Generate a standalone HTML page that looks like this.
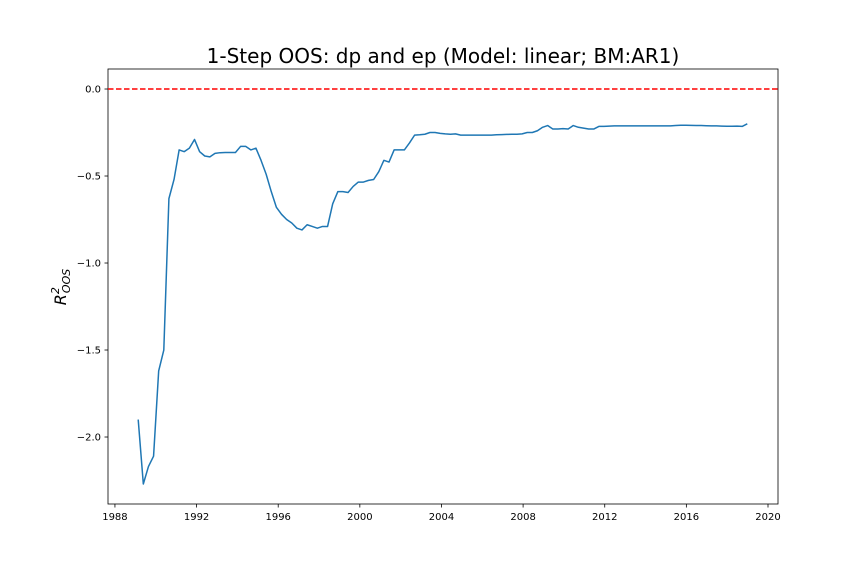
<!DOCTYPE html>
<html><head><meta charset="utf-8"><style>
body{margin:0;background:#fff}
svg{font-family:"DejaVu Sans","Liberation Sans",sans-serif}
</style></head><body>
<svg id="chart" width="864" height="576" xmlns="http://www.w3.org/2000/svg">
<rect width="864" height="576" fill="#fff"/>
<text x="443" y="63" font-size="20" text-anchor="middle" fill="#000">1-Step OOS: dp and ep (Model: linear; BM:AR1)</text>
<text transform="translate(66,287) rotate(-90)" font-size="16" text-anchor="middle" font-style="italic">R<tspan font-size="11" dy="-7">2</tspan><tspan font-size="11" dx="-6" dy="11">OOS</tspan></text>
<g id="axes"></g>
</svg>
<script>
const startYear = 1989.14;
const stepYears = 0.2508;
const values = [-1.90,-2.27,-2.17,-2.11,-1.62,-1.50,-0.63,-0.52,-0.35,-0.36,-0.34,-0.29,-0.36,-0.385,-0.39,-0.37,-0.366,-0.365,-0.365,-0.365,-0.33,-0.33,-0.35,-0.34,-0.41,-0.49,-0.59,-0.68,-0.72,-0.75,-0.77,-0.80,-0.81,-0.78,-0.79,-0.80,-0.79,-0.79,-0.66,-0.59,-0.59,-0.595,-0.56,-0.535,-0.535,-0.525,-0.52,-0.475,-0.41,-0.42,-0.35,-0.35,-0.35,-0.31,-0.265,-0.263,-0.26,-0.25,-0.25,-0.255,-0.258,-0.26,-0.258,-0.265,-0.265,-0.265,-0.265,-0.265,-0.265,-0.265,-0.263,-0.262,-0.261,-0.26,-0.26,-0.258,-0.25,-0.25,-0.24,-0.22,-0.21,-0.23,-0.23,-0.228,-0.23,-0.21,-0.22,-0.225,-0.23,-0.23,-0.215,-0.215,-0.213,-0.212,-0.212,-0.212,-0.212,-0.212,-0.212,-0.212,-0.212,-0.212,-0.212,-0.212,-0.212,-0.21,-0.208,-0.208,-0.209,-0.21,-0.21,-0.211,-0.212,-0.212,-0.213,-0.214,-0.214,-0.213,-0.215,-0.20];
const xTicks = [1988,1992,1996,2000,2004,2008,2012,2016,2020];
const yTicks = [0.0,-0.5,-1.0,-1.5,-2.0];
const yTickLabels = ["0.0","\u22120.5","\u22121.0","\u22121.5","\u22122.0"];
const refValue = 0.0;

const L=108,R=778,T=69,B=504;
const xMin=1987.66,xMax=2020.49,yMin=-2.385,yMax=0.115;
const X=v=>L+(v-xMin)/(xMax-xMin)*(R-L);
const Y=v=>B-(v-yMin)/(yMax-yMin)*(B-T);
const NS="http://www.w3.org/2000/svg";
const g=document.getElementById('axes');
function mk(t,a){const e=document.createElementNS(NS,t);for(const k in a)e.setAttribute(k,a[k]);g.appendChild(e);return e;}

const spine=mk('rect',{x:L,y:T,width:R-L,height:B-T,fill:'none',stroke:'#000','stroke-width':0.8});



xTicks.forEach(t=>{
  const l=mk('line',{x1:X(t),x2:X(t),y1:B,y2:B+3.5,stroke:'#000','stroke-width':0.8});
  
  
  const tx=mk('text',{x:X(t),y:B+16,'font-size':10,'text-anchor':'middle'});
  
  
  tx.textContent=t;
});
yTicks.forEach((t,i)=>{
  const l=mk('line',{x1:L-3.5,x2:L,y1:Y(t),y2:Y(t),stroke:'#000','stroke-width':0.8});
  
  
  const tx=mk('text',{x:L-7,y:Y(t)+3.5,'font-size':10,'text-anchor':'end'});
  
  
  tx.textContent=yTickLabels[i];
});

const ref=mk('line',{x1:L,x2:R,y1:Y(refValue),y2:Y(refValue),stroke:'#ff0000','stroke-width':1.5,'stroke-dasharray':'5.5,2.5'});



const d=values.map((v,i)=>(i?'L':'M')+X(startYear+i*stepYears).toFixed(2)+','+Y(v).toFixed(2)).join('');
const p=mk('path',{d:d,fill:'none',stroke:'#1f77b4','stroke-width':1.5,'stroke-linejoin':'round'});


</script>
</body></html>
